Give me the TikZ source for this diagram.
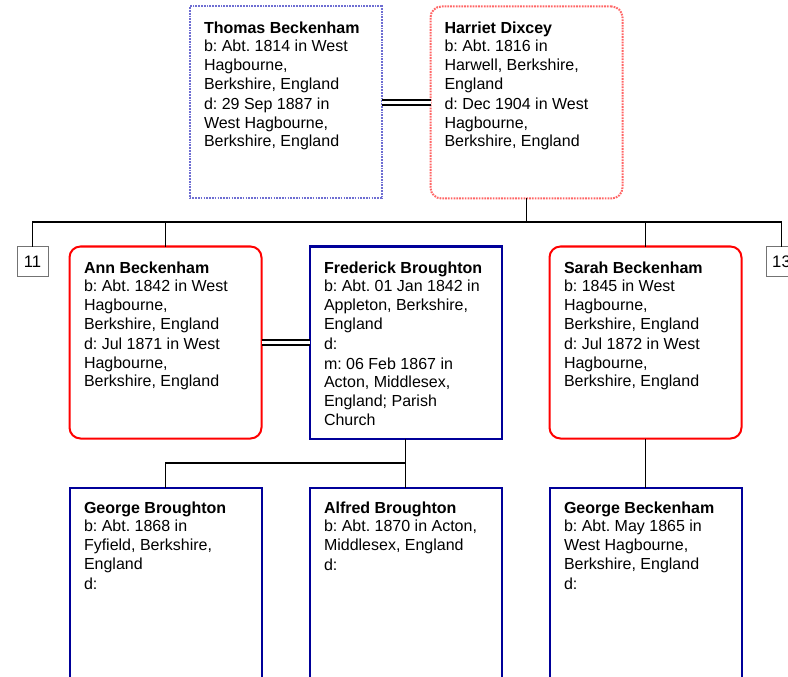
\documentclass[tikz,border=0pt]{standalone}
\usepackage{fontspec}
\setmainfont{Liberation Sans}
\frenchspacing
\definecolor{mblue}{HTML}{000099}
\definecolor{lblue}{HTML}{6E6ED2}
\definecolor{lred}{HTML}{FF6666}
\definecolor{mred}{HTML}{FF0000}
\begin{document}
\begin{tikzpicture}[x=0.75pt,y=-0.75pt,
  person/.style={draw, rectangle, minimum width=144pt, minimum height=144pt, inner sep=0pt, outer sep=0pt, line width=1.5pt},
  malebox/.style={person, draw=mblue},
  femalebox/.style={person, draw=mred, rounded corners=8.25pt},
  maleref/.style={person, draw=lblue, line width=1.5pt, dash pattern=on 1.3pt off 0.8pt},
  femaleref/.style={person, draw=lred, line width=1.5pt, dash pattern=on 1.3pt off 0.8pt, rounded corners=8.25pt},
  info/.style={anchor=north west, inner sep=0pt, outer sep=0pt, align=left, font=\fontsize{12pt}{14pt}\selectfont},
  numbox/.style={draw=black!55, line width=0.75pt, minimum width=23.25pt, minimum height=22.5pt, inner sep=0pt, outer sep=0pt, font=\fontsize{12.5pt}{14pt}\selectfont},
  conn/.style={draw=black, line width=1.3pt},
  marriage/.style={draw=black, line width=1.3pt, double=white, double distance=2.4pt}
]
\useasboundingbox (0,0) rectangle (788,677);
\clip (0,0) rectangle (788,677);
\fill[white] (0,0) rectangle (788,677);

% boxes
\node[maleref] (thomas) at (285.5,102.5) {};
\node[femaleref] (harriet) at (526.5,102.5) {};
\node[femalebox] (ann) at (165.5,342.5) {};
\node[malebox] (fred) at (405.5,342.5) {};
\node[femalebox] (sarah) at (645.5,342.5) {};
\node[malebox] (gbr) at (165.5,583.5) {};
\node[malebox] (abr) at (405.5,583.5) {};
\node[malebox] (gbk) at (645.5,583.5) {};
\node[numbox] (n11) at (32.5,261.5) {11};
\node[numbox] (n13) at (781.5,261.5) {13};

% texts
\node[info] (thomast) at ([shift={(14.5,15)}]thomas.north west) {\textbf{Thomas Beckenham}\\b: Abt. 1814 in West\\Hagbourne,\\Berkshire, England\\[1.3pt]d: 29 Sep 1887 in\\West Hagbourne,\\Berkshire, England};
\node[info] (harriett) at ([shift={(14,15)}]harriet.north west) {\textbf{Harriet Dixcey}\\b: Abt. 1816 in\\Harwell, Berkshire,\\England\\[1.3pt]d: Dec 1904 in West\\Hagbourne,\\Berkshire, England};
\node[info] (annt) at ([shift={(14.5,15)}]ann.north west) {\textbf{Ann Beckenham}\\b: Abt. 1842 in West\\Hagbourne,\\Berkshire, England\\[1.3pt]d: Jul 1871 in West\\Hagbourne,\\Berkshire, England};
\node[info] (fredt) at ([shift={(14.5,15)}]fred.north west) {\textbf{Frederick Broughton}\\b: Abt. 01 Jan 1842 in\\Appleton, Berkshire,\\England\\[1.3pt]d:\\[0.8pt]m: 06 Feb 1867 in\\Acton, Middlesex,\\England; Parish\\Church};
\node[info] (saraht) at ([shift={(14.5,15)}]sarah.north west) {\textbf{Sarah Beckenham}\\b: 1845 in West\\Hagbourne,\\Berkshire, England\\[1.3pt]d: Jul 1872 in West\\Hagbourne,\\Berkshire, England};
\node[info] (gbrt) at ([shift={(14.5,14)}]gbr.north west) {\textbf{George Broughton}\\b: Abt. 1868 in\\Fyfield, Berkshire,\\England\\[1.3pt]d:};
\node[info] (abrt) at ([shift={(14.5,14)}]abr.north west) {\textbf{Alfred Broughton}\\b: Abt. 1870 in Acton,\\Middlesex, England\\[1.3pt]d:};
\node[info] (gbkt) at ([shift={(14.5,14)}]gbk.north west) {\textbf{George Beckenham}\\b: Abt. May 1865 in\\West Hagbourne,\\Berkshire, England\\[1.3pt]d:};

% connectors
\coordinate (famline) at (0,222);
\coordinate (kidline) at (0,463);
\draw[marriage] (thomas) -- (harriet);
\draw[marriage] (ann) -- (fred);
\draw[conn] (harriet.south) -- (harriet.south |- famline);
\draw[conn] (n11.north) |- (famline -| n13.north) -- (n13.north);
\draw[conn] (ann.north) -- (ann.north |- famline);
\draw[conn] (sarah.north) -- (sarah.north |- famline);
\draw[conn] (fred.south) -- (fred.south |- kidline) -| (gbr.north);
\draw[conn] (fred.south |- kidline) -- (abr.north);
\draw[conn] (sarah) -- (gbk);
\end{tikzpicture}
\end{document}
